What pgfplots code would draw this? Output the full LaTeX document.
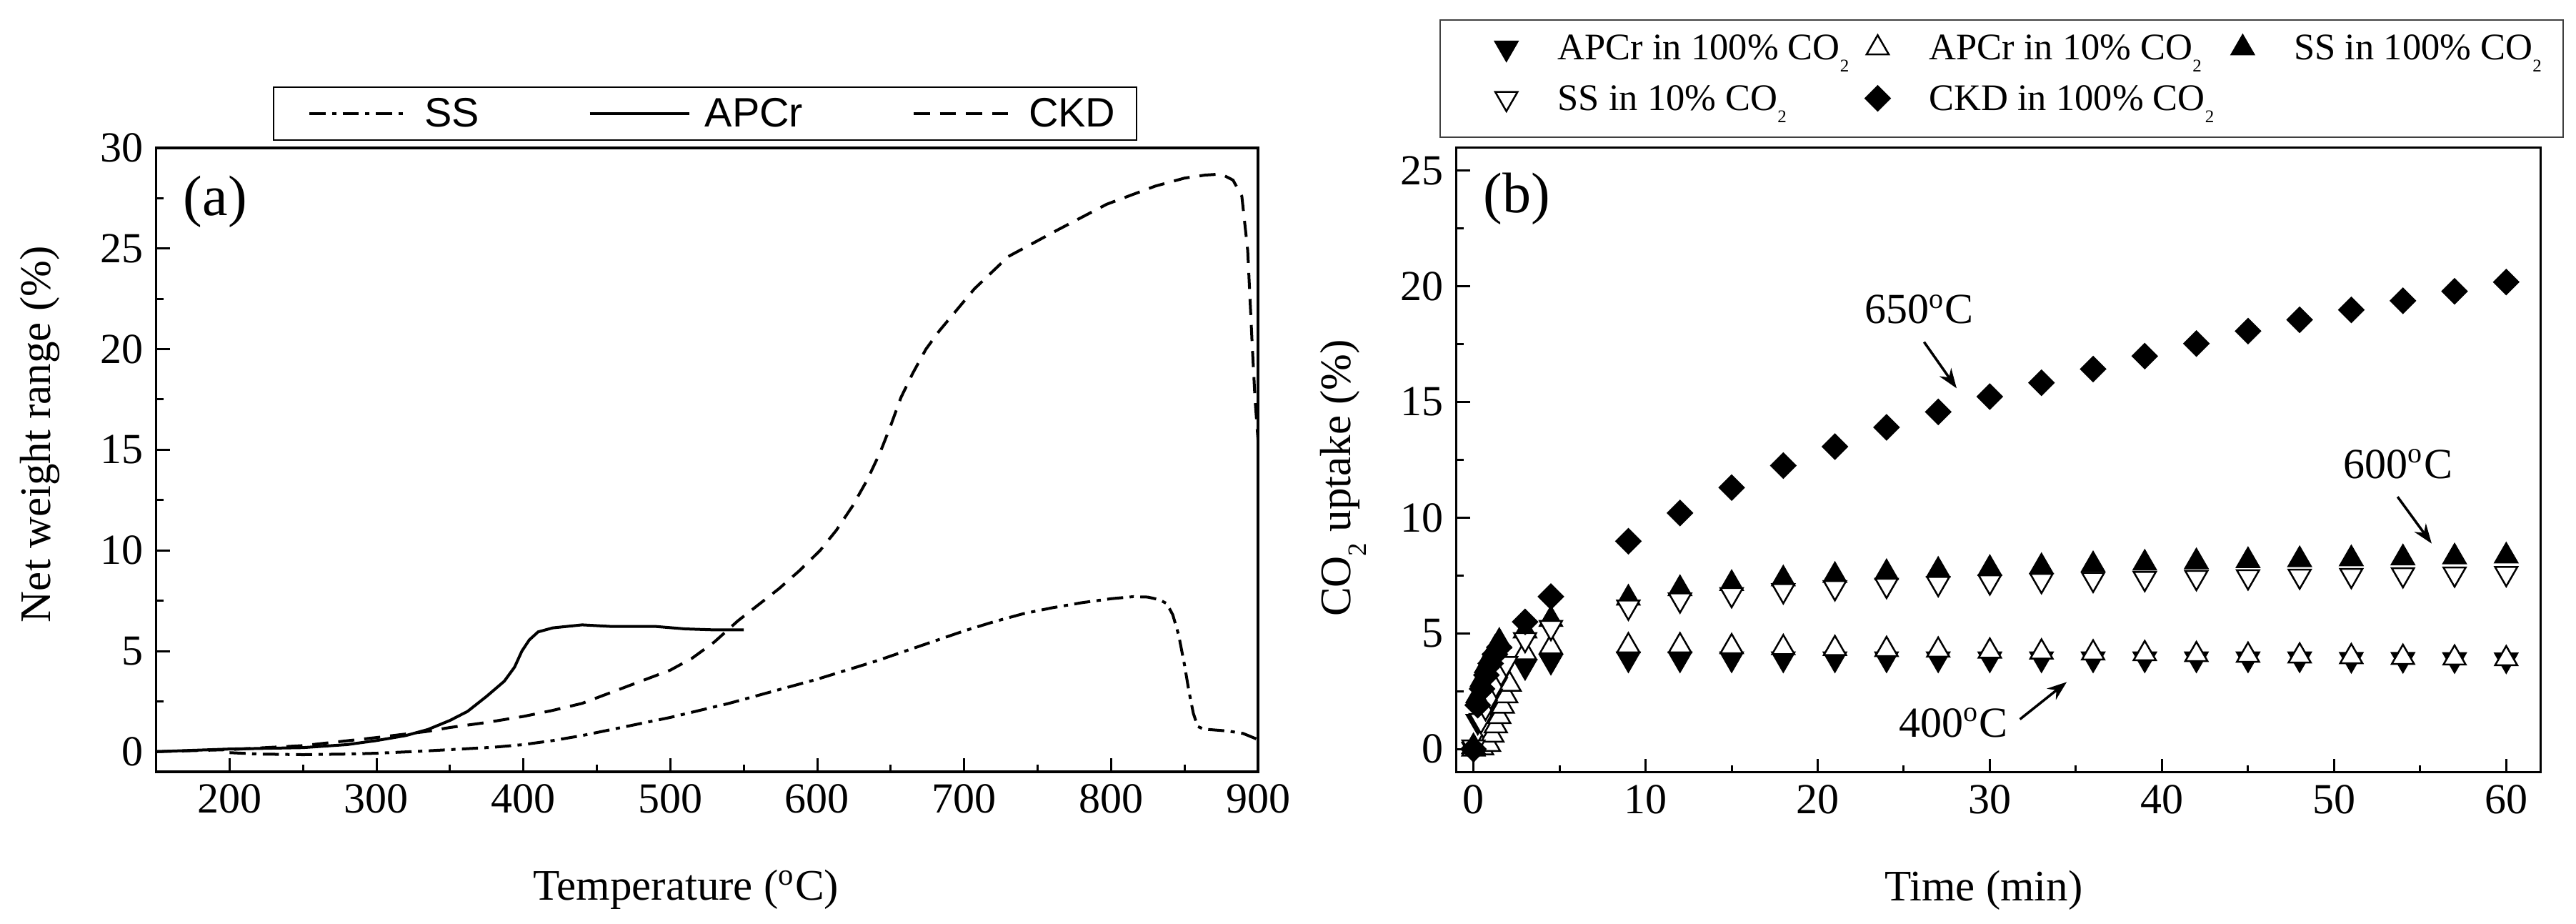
\documentclass[border=0pt]{standalone}
\usepackage{fontspec}
\setmainfont{Liberation Serif}
\newfontfamily\legsans{Liberation Sans}
\usepackage{pgfplots}
\pgfplotsset{compat=1.18}
\usetikzlibrary{arrows.meta}

\newcommand{\subtwo}[2]{\raisebox{#2}{\fontsize{#1}{#1}\selectfont 2}}

\pgfplotsset{
  myaxis/.style={
    scale only axis,
    axis line style={line width=0.65pt},
    every tick/.style={black, line width=0.6pt},
    major tick length=3.8pt,
    minor tick length=2pt,
    tick align=inside,
    tick pos=left,
    minor x tick num=1, minor y tick num=1,
    ticklabel style={font=\fontsize{12}{14}\selectfont},
    /pgf/number format/assume math mode=true,
    label style={font=\fontsize{12.2}{14}\selectfont},
  },
  colA/.style={legend image code/.code={\path[draw=none,fill=none] (0pt,-3pt) rectangle (26.9pt,3pt); \draw[##1] plot coordinates {(15.5pt,1.5pt)};}},
  colB/.style={legend image code/.code={\path[draw=none,fill=none] (0pt,-3pt) rectangle (18.4pt,3pt); \draw[##1] plot coordinates {(7pt,1.5pt)};}},
  tri/.style={only marks, mark=triangle*, mark size=3.6pt},
}

\begin{document}
\begin{tikzpicture}
\useasboundingbox (0,0) rectangle (721.2pt,258.6pt);

% ---------------- panel (a) ----------------
\begin{axis}[myaxis,
  at={(43.7pt,42.6pt)}, anchor=south west,
  width=308.5pt, height=174.6pt,
  xmin=150, xmax=900, ymin=-1, ymax=30,
  xtick={200,300,...,900}, ytick={0,5,...,30},
  xlabel={Temperature (\textsuperscript{o}C)},
  ylabel={Net weight range (\%)},
  x label style={at={(axis description cs:0.481,-0.2062)}, anchor=base},
  y label style={at={(axis description cs:-0.0959,0.541)}, anchor=base},
  legend columns=3,
  legend style={
    at={(axis description cs:0.106,1)}, anchor=south west, yshift=2pt,
    draw=black, line width=0.4pt,
    inner xsep=2pt, inner ysep=2.75pt,
    font=\legsans\fontsize{11.5}{13}\selectfont,
    nodes={inner ysep=0pt, inner xsep=4pt, text height=8.3pt, text depth=1pt},
    /tikz/every even column/.append style={column sep=19pt},
  },
  legend image code/.code={\path[draw=none,fill=none] (0pt,0pt) -- (35.8pt,0pt); \draw[#1] (8pt,0pt) -- (35.8pt,0pt);},
]
\addplot[black, line width=0.8pt, dash pattern=on 4.5pt off 1.8pt on 1.2pt off 1.8pt] coordinates {
(200,-0.05) (220,-0.12) (250,-0.15) (280,-0.12) (300,-0.08) (330,0.02) (350,0.1)
(380,0.22) (400,0.35) (420,0.55) (440,0.8) (460,1.1) (480,1.4) (500,1.7) (520,2.05)
(540,2.4) (560,2.8) (580,3.2) (600,3.6) (620,4.05) (640,4.5) (660,5.0) (680,5.5)
(700,6.0) (720,6.45) (740,6.85) (760,7.15) (780,7.4) (800,7.6) (815,7.7) (825,7.68)
(833,7.55) (838,7.35) (842,6.8) (846,5.8) (850,4.3) (853,3.0) (856,1.9) (859,1.25)
(863,1.12) (870,1.08) (880,1.02) (890,0.9) (895,0.75) (900,0.6)};
\addlegendentry{SS}
\addplot[black, line width=0.8pt, solid] coordinates {
(150,0) (200,0.13) (250,0.2) (280,0.35) (300,0.55) (320,0.8) (335,1.1) (350,1.55)
(362,2.0) (375,2.75) (387,3.5) (394,4.2) (399,5.0) (404,5.55) (410,5.95) (420,6.15)
(440,6.3) (460,6.22) (490,6.22) (510,6.1) (530,6.05) (550,6.05)};
\addlegendentry{APCr}
\addplot[black, line width=0.8pt, dash pattern=on 4.5pt off 2.8pt] coordinates {
(150,0) (200,0.1) (250,0.3) (300,0.7) (334,1.0) (350,1.2) (375,1.45) (400,1.75)
(420,2.05) (440,2.4) (460,2.95) (480,3.5) (500,4.05) (515,4.65) (530,5.45) (546,6.5)
(560,7.3) (574,8.1) (588,9.0) (602,10.0) (613,11.0) (624,12.2) (634,13.5) (643,14.9)
(650,16.2) (657,17.6) (665,18.8) (674,20.0) (683,20.9) (691,21.6) (707,23.0) (730,24.6)
(763,25.9) (797,27.2) (830,28.1) (850,28.5) (864,28.65) (875,28.7) (883,28.4) (889,27.6)
(893,24.9) (896,20.3) (898,17.5) (900,15.5)};
\addlegendentry{CKD}
\node[anchor=base west, inner sep=0pt, font=\fontsize{16}{18}\selectfont] at (axis cs:168.2,26.66) {(a)};
\end{axis}

% ---------------- panel (b) ----------------
\begin{axis}[myaxis,
  at={(407.7pt,42.46pt)}, anchor=south west,
  width=303.6pt, height=174.9pt,
  xmin=-1, xmax=62, ymin=-1, ymax=26,
  xtick={0,10,...,60}, ytick={0,5,...,25},
  clip=false,
  xlabel={Time (min)},
  ylabel={CO\subtwo{7.4pt}{-4.4pt} uptake (\%)},
  x label style={at={(axis description cs:0.4865,-0.2058)}, anchor=base},
  y label style={at={(axis description cs:-0.0975,0.4707)}, anchor=base},
  legend columns=3,
  legend cell align=left,
  legend style={
    at={(axis description cs:-0.0155,1)}, anchor=north west, yshift=35.9pt,
    draw=black!75, line width=0.5pt,
    inner xsep=3pt, inner ysep=3pt, row sep=1.4pt,
    font=\fontsize{10.5}{12}\selectfont,
    nodes={inner ysep=0pt, inner xsep=3pt, text height=8.2pt, text depth=4.5pt},
    /tikz/every even column/.append style={column sep=-2pt},
  },
]
% APCr in 100% CO2 : filled down triangle
\addplot[tri, colA, mark options={solid, fill=black, draw=black, line width=0.5pt, rotate=180}] coordinates {
(0,0) (0.25,1.2) (0.5,2.0) (0.75,2.6) (1,3.0) (1.25,3.3) (1.5,3.5) (3,3.57) (4.5,3.8)
(9,3.9) (12,3.9) (15,3.9) (18,3.9) (21,3.9) (24,3.9) (27,3.9) (30,3.9) (33,3.9) (36,3.9)
(39,3.9) (42,3.9) (45,3.9) (48,3.9) (51,3.88) (54,3.88) (57,3.87) (60,3.86)};
\addlegendentry{APCr in 100\% CO\subtwo{5pt}{-3.4pt}}
% APCr in 10% CO2 : open up triangle
\addplot[tri, colB, mark options={solid, fill=white, draw=black, line width=0.5pt}] coordinates {
(0,0) (0.5,0.05) (0.9,0.2) (1.1,0.6) (1.3,1.0) (1.5,1.4) (1.7,1.85) (1.9,2.3) (2.1,2.8)
(3,4.16) (4.5,4.41) (9,4.46) (12,4.46) (15,4.42) (18,4.38) (21,4.34) (24,4.3) (27,4.27)
(30,4.23) (33,4.19) (36,4.15) (39,4.12) (42,4.08) (45,4.05) (48,4.02) (51,3.99) (54,3.96)
(57,3.93) (60,3.9)};
\addlegendentry{APCr in 10\% CO\subtwo{5pt}{-3.4pt}}
% SS in 100% CO2 : filled up triangle
\addplot[tri, colB, mark options={solid, fill=black, draw=black, line width=0.5pt}] coordinates {
(0,0.1) (0.25,2.3) (0.5,3.0) (0.75,3.6) (1,4.0) (1.25,4.35) (1.5,4.65) (3,5.1) (4.5,5.6)
(9,6.52) (12,6.93) (15,7.15) (18,7.35) (21,7.5) (24,7.62) (27,7.72) (30,7.8) (33,7.88)
(36,7.96) (39,8.03) (42,8.09) (45,8.14) (48,8.18) (51,8.22) (54,8.26) (57,8.3) (60,8.34)};
\addlegendentry{SS in 100\% CO\subtwo{5pt}{-3.4pt}}
% SS in 10% CO2 : open down triangle
\addplot[tri, colA, mark options={solid, fill=white, draw=black, line width=0.5pt, rotate=180}] coordinates {
(0,0.1) (0.43,1.24) (0.7,1.8) (1,2.3) (1.3,2.8) (1.6,3.3) (1.9,3.7) (3,4.74) (4.5,5.26)
(9,6.14) (12,6.45) (15,6.68) (18,6.85) (21,6.98) (24,7.08) (27,7.16) (30,7.23) (33,7.29)
(36,7.34) (39,7.38) (42,7.42) (45,7.45) (48,7.48) (51,7.51) (54,7.54) (57,7.57) (60,7.59)};
\addlegendentry{SS in 10\% CO\subtwo{5pt}{-3.4pt}}
% CKD in 100% CO2 : filled diamond
\addplot[only marks, colB, mark=square*, mark size=2.45pt, mark options={solid, fill=black, draw=black, line width=0.4pt, rotate=45}] coordinates {
(0,0) (0.25,1.9) (0.5,2.6) (0.75,3.2) (1,3.7) (1.25,4.1) (1.5,4.4) (3,5.5) (4.5,6.59)
(9,8.98) (12,10.2) (15,11.3) (18,12.25) (21,13.07) (24,13.9) (27,14.57) (30,15.23)
(33,15.83) (36,16.42) (39,16.98) (42,17.52) (45,18.06) (48,18.55) (51,18.98) (54,19.37)
(57,19.78) (60,20.18)};
\addlegendentry{CKD in 100\% CO\subtwo{5pt}{-3.4pt}}

\node[anchor=base west, inner sep=0pt, font=\fontsize{16}{18}\selectfont] at (axis cs:0.55,23.19) {(b)};
\node[anchor=base west, inner sep=0pt, font=\fontsize{12}{14}\selectfont] at (axis cs:22.68,18.38) {650\textsuperscript{o}C};
\draw[line width=0.7pt, -{Stealth[length=5.5pt,width=4pt]}] (axis cs:26.18,17.59) -- (axis cs:28.07,15.59);
\node[anchor=base west, inner sep=0pt, font=\fontsize{12}{14}\selectfont] at (axis cs:50.52,11.70) {600\textsuperscript{o}C};
\draw[line width=0.7pt, -{Stealth[length=5.5pt,width=4pt]}] (axis cs:53.69,10.9) -- (axis cs:55.67,8.88);
\node[anchor=base west, inner sep=0pt, font=\fontsize{12}{14}\selectfont] at (axis cs:24.67,0.53) {400\textsuperscript{o}C};
\draw[line width=0.7pt, -{Stealth[length=5.5pt,width=4pt]}] (axis cs:31.75,1.29) -- (axis cs:34.47,2.9);
\end{axis}
\end{tikzpicture}
\end{document}
